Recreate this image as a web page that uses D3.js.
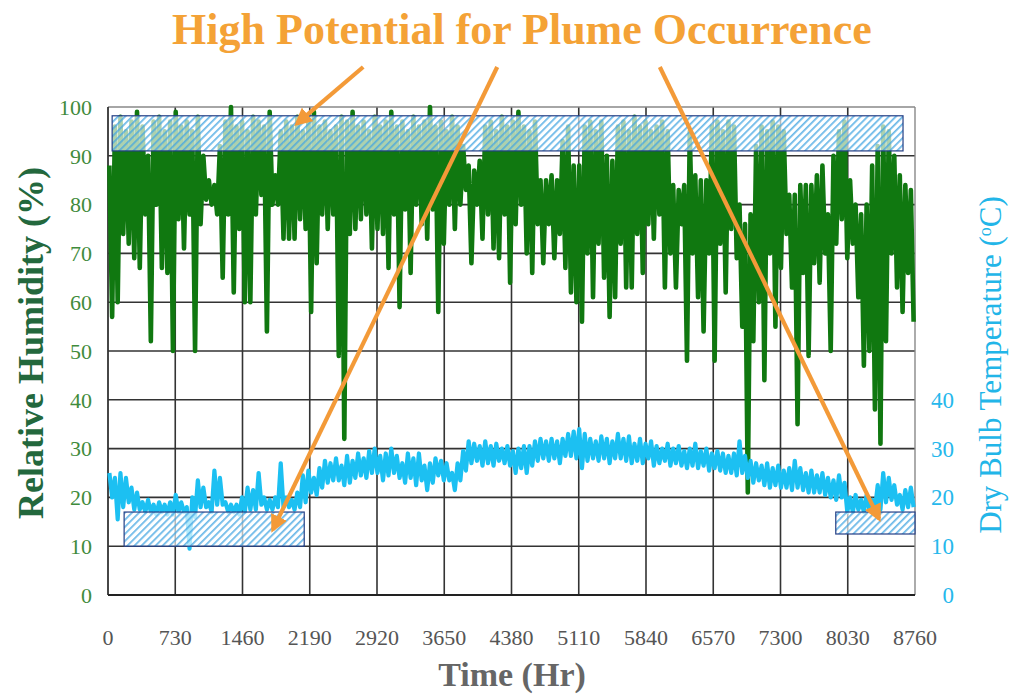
<!DOCTYPE html>
<html>
<head>
<meta charset="utf-8">
<script src="https://cdn.jsdelivr.net/npm/d3@7"></script>
<style>
  body { margin: 0; background: #fff; }
  svg { display: block; }
</style>
</head>
<body>
<svg id="chart" width="1013" height="694"></svg>
<script>
// Hourly records summarised in 60-hour bins: highest and lowest reading per bin.
const binHours = 60;

// Relative humidity (%), bin maxima
const rhPeak = [
  88,96,98,95,97,99,96,90,97,98,
  95,97,99,96,97,95,98,90,85,84,
  92,97,100,96,97,95,98,97,96,99,
  86,95,97,96,98,95,97,99,96,97,
  95,96,98,97,99,96,97,95,98,96,
  97,99,96,97,95,98,96,97,100,96,
  97,95,98,96,92,88,87,89,96,97,
  95,98,96,97,99,96,95,97,85,85,
  86,85,93,96,88,88,96,97,95,97,
  90,89,96,97,95,98,96,97,95,96,
  97,95,84,83,84,95,86,85,85,96,
  97,95,97,96,80,76,78,92,96,95,
  97,96,95,82,82,84,84,84,86,88,
  78,90,95,97,85,80,78,80,88,92,
  96,95,90,86,84,83
];
// Relative humidity (%), bin minima
const rhTrough = [
  57,60,74,72,69,67,78,52,80,67,
  66,50,77,71,78,50,76,81,80,78,
  65,78,62,75,60,60,78,82,54,80,
  80,73,73,73,77,75,58,68,78,75,
  78,49,32,74,75,77,78,71,75,74,
  67,78,59,79,66,80,76,73,79,58,
  72,80,75,80,83,68,80,73,78,71,
  69,78,64,76,80,70,66,76,68,76,
  69,74,67,62,60,56,70,61,72,65,
  57,61,72,63,63,74,66,76,73,78,
  63,70,63,76,48,70,61,54,70,48,
  72,62,75,69,55,21,52,60,44,70,
  55,67,74,63,35,66,49,68,64,70,
  50,72,77,69,72,61,47,50,38,31,
  52,70,63,58,66,56
];
// Dry bulb temperature (°C), bin maxima
const tempHigh = [
  25,24,25,24,22,21,19,19.5,18.5,19,
  18.5,19,20.5,19,18,20,23.5,22,19,25.5,
  24,19,18.5,18.5,20,22,21.5,25,20,19.5,
  20,27,20,19.5,21,24.5,25.5,24,26,27.5,
  27,28,26.5,28.5,27.5,29,28,29.5,30,28.5,
  29,30,28.5,27,29,28,29,26.5,27,28,
  27.5,27,25,27,29.5,31.5,31,30.5,31.5,30.5,
  31,30,30.5,29.5,30,30.5,30.5,31.5,32,31.5,
  32,31.5,32,33,33.5,34,33,32,31.5,32.5,
  32,31.5,33,32,32.5,31,32,31,31.5,30.5,
  30,31,30,30.5,29.5,30,31,29.5,30,29,
  29.5,29,28.5,29,31.5,28.5,27.5,27,26.5,27,
  26,26.5,25.5,26,27.5,26,25,25.5,24.5,25,
  24,23.5,24.5,23,20,20.5,19.5,20.5,19.5,22.5,
  25,24,22.5,20.5,21.5,22
];
// Dry bulb temperature (°C), bin minima
const tempLow = [
  20,15.5,18,19,17.5,17.5,17,17,16.5,17,
  16.5,16.5,17,17,9.5,16,18,18,17,18.5,
  18.5,17,17,16.5,17,17.5,17.5,18.5,17.5,17.5,
  18,18,18,17.5,18,19,21,20.5,22,23,
  23.5,23.5,22.5,23,24,24.5,24,25,25,23.5,
  24.5,25,24,23,24,22.5,23.5,21.5,23,24.5,
  23.5,23.5,21.5,23.5,25.5,27,27.5,26.5,27,26.5,
  27.5,27,26.5,25,26,25,26.5,27.5,28,27.5,
  28,27,28.5,28.5,28,26,27.5,28,27.5,28,
  27,28,28,27.5,27,27.5,27,28,26.5,27,
  27.5,26.5,27,26.5,26,26.5,26,26.5,25.5,26,
  25.5,25,25,24.5,25,24,23,23.5,22.5,22,
  22.5,22,22,21.5,22,21.5,21,21,21,20.5,
  20,19.5,20,17,17,17.5,17,17.5,17.5,17.5,
  19,19.5,18.5,17.5,18,18
];

// Axis ticks
const hourTicks = [0,730,1460,2190,2920,3650,4380,5110,5840,6570,7300,8030,8760];
const rhTicks = [0,10,20,30,40,50,60,70,80,90,100];
const tempTicks = [0,10,20,30,40];

// Highlighted zones: [startHour, endHour, low, high] in left-axis units
const plumeZones = [
  [45, 8630, 91, 98.2],
  [175, 2130, 10, 17],
  [7900, 8760, 12.5, 17]
];
// Callout arrows: [fromHour, fromValue, toHour, toValue]
const callouts = [
  [2770, 108.2, 2050, 96.6],
  [4225, 108.2, 1790, 13.4],
  [5990, 108.2, 8370, 15.6]
];

const W = 1013, H = 694;
const m = { left: 108, right: 915, top: 107, bottom: 595 };
const svg = d3.select("#chart");
svg.append("rect").attr("width", W).attr("height", H).attr("fill", "#fff");

const x = d3.scaleLinear().domain([0, 8760]).range([m.left, m.right]);
const y = d3.scaleLinear().domain([0, 100]).range([m.bottom, m.top]);
// Temperature shares the same pixel scale, labelled 0–40 on the right
const yT = d3.scaleLinear().domain([0, 100]).range([m.bottom, m.top]);

const serif = "'Liberation Serif', 'DejaVu Serif', serif";

// Grid
const grid = svg.append("g").attr("stroke", "#333").attr("stroke-width", 1.6);
grid.selectAll(".h").data(rhTicks.filter(v => v > 0 && v < 100)).join("line")
  .attr("x1", m.left).attr("x2", m.right)
  .attr("y1", d => y(d)).attr("y2", d => y(d));
grid.selectAll(".v").data(hourTicks.filter(v => v > 0 && v < 8760)).join("line")
  .attr("y1", m.top).attr("y2", m.bottom)
  .attr("x1", d => x(d)).attr("x2", d => x(d));

// Frame
svg.append("line").attr("x1", m.left).attr("x2", m.right).attr("y1", m.top).attr("y2", m.top)
  .attr("stroke", "#888").attr("stroke-width", 1.4);
svg.append("line").attr("x1", m.right).attr("x2", m.right).attr("y1", m.top).attr("y2", m.bottom)
  .attr("stroke", "#888").attr("stroke-width", 1.4);
svg.append("line").attr("x1", m.left).attr("x2", m.left).attr("y1", m.top).attr("y2", m.bottom)
  .attr("stroke", "#333").attr("stroke-width", 1.8);
svg.append("line").attr("x1", m.left).attr("x2", m.right).attr("y1", m.bottom).attr("y2", m.bottom)
  .attr("stroke", "#222").attr("stroke-width", 2);

// Series as high/low traces per bin
function trace(hi, lo) {
  return hi.flatMap((v, i) => [
    { h: i * binHours + 15, v: v },
    { h: i * binHours + 45, v: lo[i] }
  ]);
}
const rhLine = d3.line().x(d => x(d.h)).y(d => y(d.v));
const tLine = d3.line().x(d => x(d.h)).y(d => yT(d.v));

svg.append("path").datum(trace(rhPeak, rhTrough))
  .attr("d", rhLine).attr("fill", "none")
  .attr("stroke", "#107810").attr("stroke-width", 4.6).attr("stroke-linejoin", "round");

svg.append("path").datum(trace(tempHigh, tempLow))
  .attr("d", tLine).attr("fill", "none")
  .attr("stroke", "#1cc0f2").attr("stroke-width", 4.2).attr("stroke-linejoin", "round");

// Hatched zones
const defs = svg.append("defs");
const pat = defs.append("pattern").attr("id", "hatch")
  .attr("patternUnits", "userSpaceOnUse").attr("width", 5).attr("height", 5)
  .attr("patternTransform", "rotate(45)");
pat.append("rect").attr("width", 5).attr("height", 5).attr("fill", "#fff").attr("fill-opacity", 0.66);
pat.append("line").attr("x1", 0.9).attr("y1", 0).attr("x2", 0.9).attr("y2", 5)
  .attr("stroke", "#45a6e2").attr("stroke-width", 1.4);

svg.selectAll(".zone").data(plumeZones).join("rect")
  .attr("x", d => x(d[0])).attr("width", d => x(d[1]) - x(d[0]))
  .attr("y", d => y(d[3])).attr("height", d => y(d[2]) - y(d[3]))
  .attr("fill", "url(#hatch)").attr("stroke", "#243f85").attr("stroke-width", 1.2);

// Arrows
defs.append("marker").attr("id", "head")
  .attr("viewBox", "0 0 10 10").attr("refX", 8).attr("refY", 5)
  .attr("markerWidth", 4.2).attr("markerHeight", 4.2).attr("orient", "auto")
  .append("path").attr("d", "M0,0 L10,5 L0,10 Z").attr("fill", "#f39a38");

svg.selectAll(".callout").data(callouts).join("line")
  .attr("x1", d => x(d[0])).attr("y1", d => y(d[1]))
  .attr("x2", d => x(d[2])).attr("y2", d => y(d[3]))
  .attr("stroke", "#f39a38").attr("stroke-width", 4.2)
  .attr("marker-end", "url(#head)");

// Tick labels
svg.selectAll(".rhl").data(rhTicks).join("text")
  .attr("x", 92).attr("y", d => y(d)).attr("dy", "0.35em")
  .attr("text-anchor", "end").attr("font-family", serif).attr("font-size", 22)
  .attr("fill", "#3f8b3c").text(d => d);

svg.selectAll(".tl").data(tempTicks).join("text")
  .attr("x", 954).attr("y", d => yT(d)).attr("dy", "0.35em")
  .attr("text-anchor", "end").attr("font-family", serif).attr("font-size", 23)
  .attr("fill", "#26b8ec").text(d => d);

svg.selectAll(".xl").data(hourTicks).join("text")
  .attr("x", d => x(d)).attr("y", 645)
  .attr("text-anchor", "middle").attr("font-family", serif).attr("font-size", 22)
  .attr("fill", "#555").text(d => d);

// Titles
svg.append("text").attr("x", 522).attr("y", 44)
  .attr("text-anchor", "middle").attr("font-family", serif).attr("font-weight", "bold")
  .attr("font-size", 44).attr("fill", "#f4a236")
  .text("High Potential for Plume Occurrence");

svg.append("text").attr("transform", "translate(30,343) rotate(-90)")
  .attr("dy", "0.35em").attr("text-anchor", "middle").attr("font-family", serif)
  .attr("font-weight", "bold").attr("font-size", 36).attr("fill", "#23683d")
  .text("Relative Humidity (%)");

const rt = svg.append("text").attr("transform", "translate(990,365) rotate(-90)")
  .attr("dy", "0.35em").attr("text-anchor", "middle").attr("font-family", serif)
  .attr("font-size", 31).attr("fill", "#22b5e8");
rt.append("tspan").text("Dry Bulb Temperature (");
rt.append("tspan").attr("font-size", 18).attr("baseline-shift", "super").text("o");
rt.append("tspan").text("C)");

svg.append("text").attr("x", 512).attr("y", 686)
  .attr("text-anchor", "middle").attr("font-family", serif).attr("font-weight", "bold")
  .attr("font-size", 34).attr("fill", "#666").text("Time (Hr)");
</script>
</body>
</html>
